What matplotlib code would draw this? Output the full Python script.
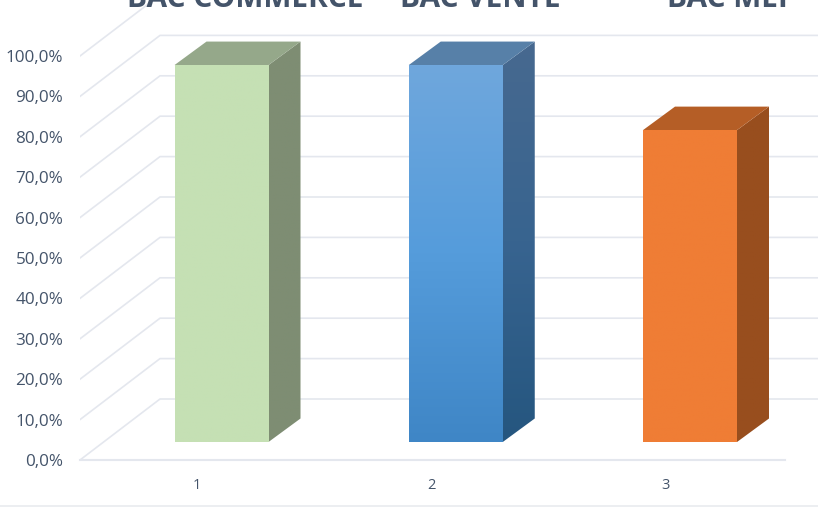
import numpy as np
import matplotlib
matplotlib.use("Agg")
import matplotlib.pyplot as plt
from matplotlib.patches import Polygon
from matplotlib.lines import Line2D

# Values
categories = ["1", "2", "3"]
values = [93.3, 93.3, 77.2]
titles = ["BAC COMMERCE", "BAC VENTE", "BAC MEI"]
y_ticks = [0, 10, 20, 30, 40, 50, 60, 70, 80, 90, 100]
y_labels = ["0,0%", "10,0%", "20,0%", "30,0%", "40,0%", "50,0%",
            "60,0%", "70,0%", "80,0%", "90,0%", "100,0%"]

W, H = 818, 516
TEXT = "#44546a"
GRID = "#e4e7ee"

plt.rcParams["font.family"] = ["Open Sans", "DejaVu Sans"]

fig = plt.figure(figsize=(W / 100, H / 100), dpi=100)
ax = fig.add_axes([80 / W, (H - 460) / H, (W - 80) / W, 460 / H])

# one category is 234.25 px, ten percent is 40.4 px
cat_px = 234.25
val_px = 4.04
ax.set_xlim(1 - (197 - 80) / cat_px, 1 + (W - 197) / cat_px)
ax.set_ylim(0, 460 / val_px)
for s in ax.spines.values():
    s.set_visible(False)

# 3d wall offset and bar offsets, converted from pixels
wall_dx, wall_dy = 80 / cat_px, 61 / val_px
bar_dx, bar_dy = 32 / cat_px, 23.5 / val_px
bar_w = 94 / cat_px
bar_shift = 24.5 / cat_px
bar_floor = 18 / val_px
x0 = ax.get_xlim()[0]
x1 = ax.get_xlim()[1]

# walls
for t in y_ticks:
    ax.plot([x0, x0 + wall_dx, x1], [t, t + wall_dy, t + wall_dy], color=GRID, lw=1.2, zorder=1)
ax.plot([x0, x0 + 705 / cat_px], [0, 0], color=GRID, lw=1.5, zorder=1, clip_on=False)


def gradient(poly, top_col, mid_col, bottom_col, zorder):
    # vertical gradient clipped to the polygon
    cmap = matplotlib.colors.LinearSegmentedColormap.from_list("g", [bottom_col, mid_col, top_col])
    xy = np.array(poly.get_xy())
    grad = np.linspace(1, 0, 256).reshape(-1, 1)
    im = ax.imshow(grad, cmap=cmap, aspect="auto", zorder=zorder, vmin=0, vmax=1,
                   extent=[xy[:, 0].min(), xy[:, 0].max(), xy[:, 1].min(), xy[:, 1].max()])
    ax.add_patch(poly)
    im.set_clip_path(poly)


styles = [
    dict(front=("#c5e0b4", "#c5e0b4", "#c5e0b4"), side=("#7e8d73", "#7e8d73", "#7e8d73"), top="#95a88a"),
    dict(front=("#6fa7dd", "#559cdb", "#3f86c6"), side=("#47698f", "#386490", "#25567f"), top="#5780a8"),
    dict(front=("#ef7d35", "#ef7d35", "#ef7d35"), side=("#984e1e", "#984e1e", "#984e1e"), top="#b55e26"),
]

xlim, ylim = ax.get_xlim(), ax.get_ylim()
for i, (v, st) in enumerate(zip(values, styles)):
    l = 1 + i + bar_shift - bar_w / 2
    r = l + bar_w
    b = bar_floor
    t = b + v
    front = Polygon([(l, b), (r, b), (r, t), (l, t)], closed=True, fc="none", ec="none", zorder=4)
    side = Polygon([(r, b), (r + bar_dx, b + bar_dy), (r + bar_dx, t + bar_dy), (r, t)],
                   closed=True, fc="none", ec="none", zorder=3)
    top = Polygon([(l, t), (r, t), (r + bar_dx, t + bar_dy), (l + bar_dx, t + bar_dy)],
                  closed=True, fc=st["top"], ec="none", zorder=3)
    gradient(side, *st["side"], 3)
    gradient(front, *st["front"], 4)
    ax.add_patch(top)
ax.set_xlim(xlim)
ax.set_ylim(ylim)

ax.set_xticks([1, 2, 3])
ax.set_xticklabels(categories, fontsize=10.5, color=TEXT)
ax.set_yticks(y_ticks)
ax.set_yticklabels(y_labels, fontsize=12.3, color=TEXT)
ax.tick_params(axis="x", length=0, pad=13)
ax.tick_params(axis="y", length=0, pad=12)

# titles are cut by the top of the picture
for name, cx in zip(titles, [245, 480.5, 727.5]):
    fig.text(cx / W, (H - 7) / H, name, ha="center", va="baseline",
             fontsize=21.5, fontweight="bold", color=TEXT)

# thin border under the chart
fig.add_artist(Line2D([0, 1], [(H - 506) / H] * 2, color="#e9ebef", lw=1.2))

fig.savefig("out.png", dpi=100)
